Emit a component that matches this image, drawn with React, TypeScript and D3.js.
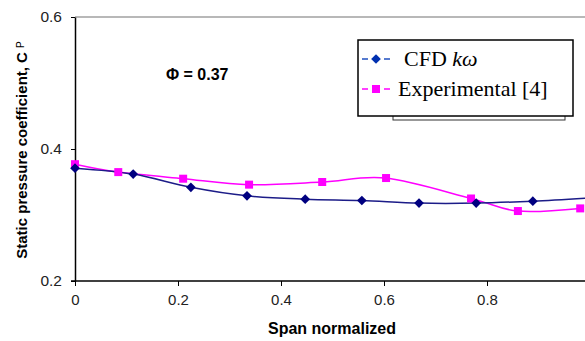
import React, { useRef, useEffect } from "react";
import * as d3 from "d3";

// values
const cfdSpan = [0, 0.113, 0.225, 0.334, 0.447, 0.557, 0.668, 0.779, 0.889, 1.0];
const cfdCp = [0.371, 0.362, 0.342, 0.329, 0.324, 0.322, 0.318, 0.318, 0.321, 0.326];

const expSpan = [0, 0.084, 0.21, 0.338, 0.48, 0.604, 0.769, 0.86, 0.981];
const expCp = [0.377, 0.365, 0.355, 0.346, 0.35, 0.356, 0.325, 0.306, 0.31];

const xTicks = [0, 0.2, 0.4, 0.6, 0.8];
const yTicks = [0.2, 0.4, 0.6];

const width = 585;
const height = 341;

export default function App() {
  const ref = useRef<SVGSVGElement>(null);

  useEffect(() => {
    const svg = d3.select(ref.current);
    svg.selectAll("*").remove();

    const x = d3.scaleLinear().domain([0, 1]).range([75, 590]);
    const y = d3.scaleLinear().domain([0.2, 0.6]).range([281, 17]);

    // top border of plot area
    svg
      .append("line")
      .attr("x1", x(0))
      .attr("x2", width)
      .attr("y1", y(0.6))
      .attr("y2", y(0.6))
      .attr("stroke", "#a0a0a0")
      .attr("stroke-width", 1.5);

    // axes
    const xAxis = svg
      .append("g")
      .attr("transform", `translate(0,${y(0.2)})`)
      .call(
        d3
          .axisBottom(x)
          .tickValues(xTicks)
          .tickSize(5)
          .tickSizeOuter(0)
          .tickFormat((d) => (d === 0 ? "0" : String(d)))
      );
    xAxis.select(".domain").attr("d", `M${x(0) - 4},0H${width}`).attr("stroke-width", 1.5);
    xAxis
      .selectAll("text")
      .attr("dy", "1.05em")
      .attr("font-size", 15)
      .attr("font-family", "Arial, Liberation Sans, sans-serif")
      .attr("fill", "#222");

    const yAxis = svg
      .append("g")
      .attr("transform", `translate(${x(0)},0)`)
      .call(
        d3
          .axisLeft(y)
          .tickValues(yTicks)
          .tickSize(4)
          .tickSizeOuter(0)
          .tickFormat(d3.format(".1f"))
      );
    yAxis.select(".domain").attr("stroke-width", 1.5);
    yAxis
      .selectAll("text")
      .attr("x", -13)
      .attr("font-size", 15.5)
      .attr("font-family", "Arial, Liberation Sans, sans-serif")
      .attr("fill", "#222");

    // axis titles
    svg
      .append("text")
      .attr("x", 332)
      .attr("y", 334)
      .attr("text-anchor", "middle")
      .attr("font-size", 16)
      .attr("font-weight", "bold")
      .attr("font-family", "Arial, Liberation Sans, sans-serif")
      .text("Span normalized");

    const yTitle = svg
      .append("text")
      .attr("transform", "translate(27,150) rotate(-90)")
      .attr("text-anchor", "middle")
      .attr("font-size", 15)
      .attr("font-weight", "bold")
      .attr("font-family", "Arial, Liberation Sans, sans-serif");
    yTitle.append("tspan").text("Static pressure coefficient, C ");
    yTitle.append("tspan").attr("font-size", 10).attr("font-weight", "normal").attr("dy", -3).text("P");

    // annotation
    svg
      .append("text")
      .attr("x", 166)
      .attr("y", 80)
      .attr("font-size", 16)
      .attr("font-weight", "bold")
      .attr("font-family", "Arial, Liberation Sans, sans-serif")
      .text("\u03A6 = 0.37");

    const cfd = cfdSpan.map((s, i) => [x(s), y(cfdCp[i])] as [number, number]);
    const exp = expSpan.map((s, i) => [x(s), y(expCp[i])] as [number, number]);

    const path = d3.line().curve(d3.curveCardinal.tension(0));

    svg
      .append("path")
      .attr("d", path(exp))
      .attr("fill", "none")
      .attr("stroke", "#ff00ff")
      .attr("stroke-width", 1.5);

    svg
      .append("path")
      .attr("d", path(cfd))
      .attr("fill", "none")
      .attr("stroke", "#1c1c88")
      .attr("stroke-width", 1.5);

    svg
      .append("g")
      .selectAll("rect")
      .data(exp)
      .join("rect")
      .attr("x", (d) => d[0] - 4)
      .attr("y", (d) => d[1] - 4)
      .attr("width", 8)
      .attr("height", 8)
      .attr("fill", "#ff00ff");

    const diamond = d3.symbol().type(d3.symbolDiamond2).size(60);
    svg
      .append("g")
      .selectAll("path")
      .data(cfd)
      .join("path")
      .attr("transform", (d) => `translate(${d[0]},${d[1]})`)
      .attr("d", diamond())
      .attr("fill", "#000080");

    // legend (with the stray box behind it)
    svg
      .append("rect")
      .attr("x", 393)
      .attr("y", 100)
      .attr("width", 172)
      .attr("height", 20)
      .attr("fill", "#fff")
      .attr("stroke", "#333")
      .attr("stroke-width", 1);

    svg
      .append("rect")
      .attr("x", 358)
      .attr("y", 40)
      .attr("width", 215)
      .attr("height", 76)
      .attr("fill", "#fff")
      .attr("stroke", "#000")
      .attr("stroke-width", 1.5);

    const entries = [
      { label: "CFD ", italic: "k\u03C9", color: "#2050c0", marker: "diamond", y: 59, tx: 404 },
      { label: "Experimental [4]", italic: "", color: "#ff00ff", marker: "square", y: 89, tx: 398 },
    ];

    entries.forEach((e) => {
      svg
        .append("line")
        .attr("x1", 362)
        .attr("x2", 390)
        .attr("y1", e.y)
        .attr("y2", e.y)
        .attr("stroke", e.color)
        .attr("stroke-width", 1.5)
        .attr("stroke-dasharray", "6,16");
      if (e.marker === "diamond") {
        svg
          .append("path")
          .attr("transform", `translate(376,${e.y})`)
          .attr("d", diamond())
          .attr("fill", "#0030b0");
      } else {
        svg
          .append("rect")
          .attr("x", 372)
          .attr("y", e.y - 4)
          .attr("width", 8)
          .attr("height", 8)
          .attr("fill", "#ff00ff");
      }
      const t = svg
        .append("text")
        .attr("x", e.tx)
        .attr("y", e.y + 7)
        .attr("font-size", 22)
        .attr("font-family", "Times New Roman, Liberation Serif, serif");
      t.append("tspan").text(e.label);
      if (e.italic) t.append("tspan").attr("font-style", "italic").text(e.italic);
    });
  }, []);

  return (
    <svg
      ref={ref}
      width={width}
      height={height}
      style={{ position: "absolute", left: 0, top: 0, background: "#fff" }}
    />
  );
}
